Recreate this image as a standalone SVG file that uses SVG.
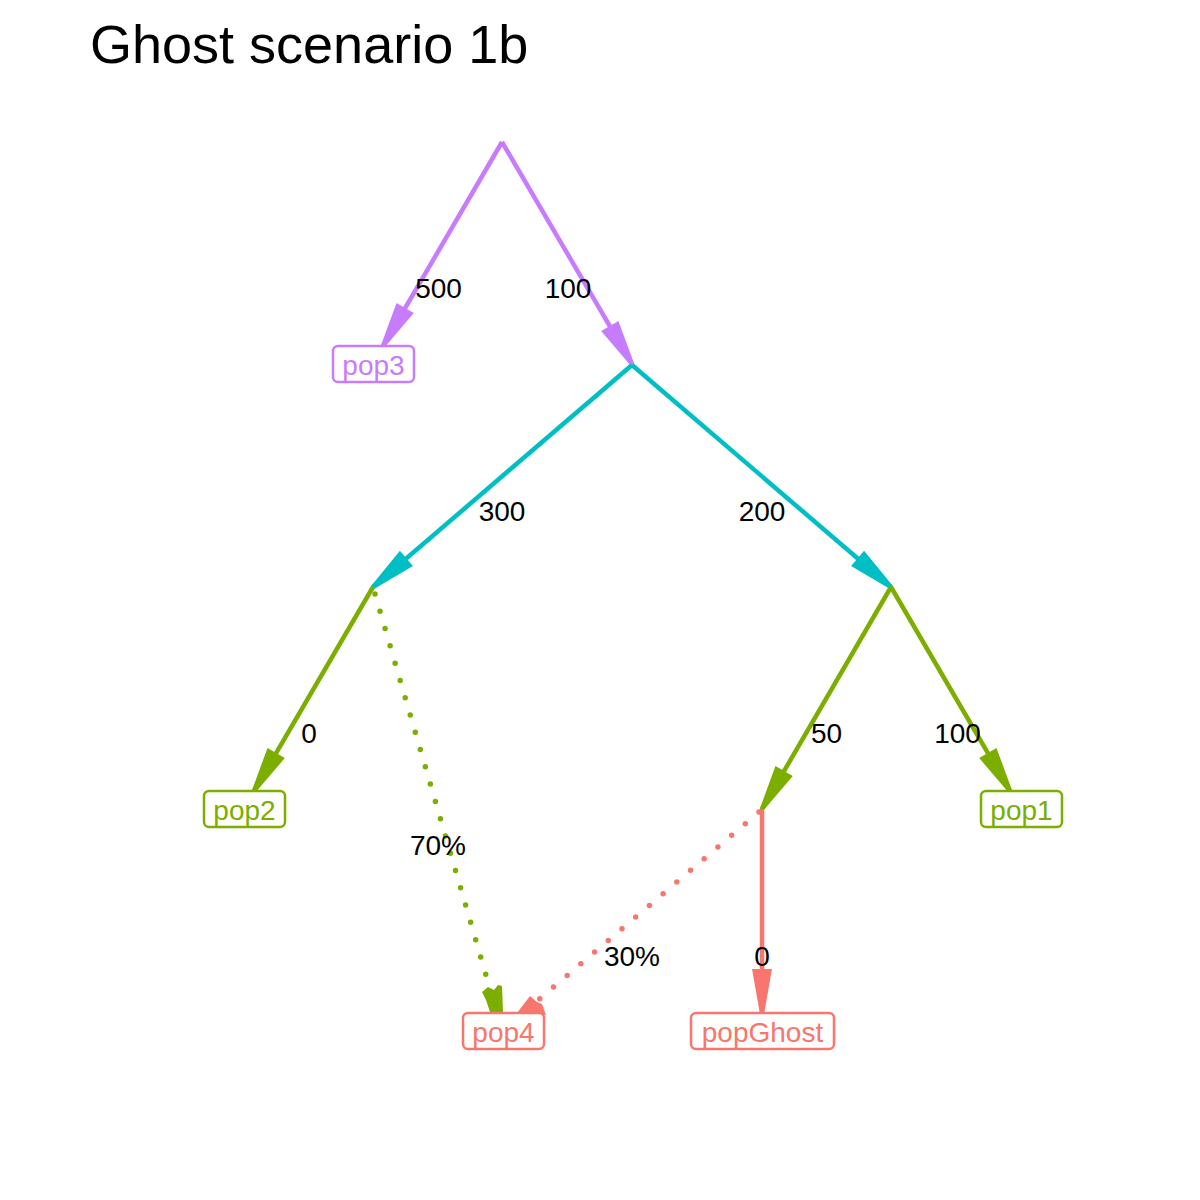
<svg xmlns="http://www.w3.org/2000/svg" width="1200" height="1200" viewBox="0 0 1200 1200">
<style>
.t{font-family:"Liberation Sans",Arial,sans-serif;font-size:28px;text-anchor:middle;fill:#000}
.title{font-family:"Liberation Sans",Arial,sans-serif;font-size:54px;fill:#000}
.box{fill:#fff;stroke-width:2.5}
.nl{font-family:"Liberation Sans",Arial,sans-serif;font-size:28px;text-anchor:middle}
.e{fill:none;stroke-width:4.5}
.d{fill:none;stroke-width:5.5;stroke-dasharray:0 18;stroke-linecap:round}
</style>
<defs>
<marker id="aP" viewBox="-46 -11 48 22" refX="0" refY="0" markerWidth="48" markerHeight="22" markerUnits="userSpaceOnUse" orient="auto"><path d="M1,-2 L-44,-10 L-44,10 L1,2 Z" fill="#C77CFF"/></marker>
<marker id="aC" viewBox="-46 -11 48 22" refX="0" refY="0" markerWidth="48" markerHeight="22" markerUnits="userSpaceOnUse" orient="auto"><path d="M1,-2 L-44,-10 L-44,10 L1,2 Z" fill="#00BFC4"/></marker>
<marker id="aG" viewBox="-46 -11 48 22" refX="0" refY="0" markerWidth="48" markerHeight="22" markerUnits="userSpaceOnUse" orient="auto"><path d="M1,-2 L-44,-10 L-44,10 L1,2 Z" fill="#7CAE00"/></marker>
<marker id="aR" viewBox="-46 -11 48 22" refX="0" refY="0" markerWidth="48" markerHeight="22" markerUnits="userSpaceOnUse" orient="auto"><path d="M1,-2 L-44,-10 L-44,10 L1,2 Z" fill="#F8766D"/></marker>
</defs>
<rect width="1200" height="1200" fill="#fff"/>
<text class="title" x="90" y="63">Ghost scenario 1b</text>
<g id="connectors">
<line class="e" stroke="#C77CFF" x1="502" y1="142" x2="383" y2="346" marker-end="url(#aP)"/>
<line class="e" stroke="#C77CFF" x1="502" y1="142" x2="632" y2="364" marker-end="url(#aP)"/>
<line class="e" stroke="#00BFC4" x1="632" y1="365" x2="373" y2="587" marker-end="url(#aC)"/>
<line class="e" stroke="#00BFC4" x1="632" y1="365" x2="891" y2="587" marker-end="url(#aC)"/>
<line class="e" stroke="#7CAE00" x1="373" y1="587" x2="254" y2="791" marker-end="url(#aG)"/>
<line class="e" stroke="#7CAE00" x1="891" y1="587" x2="762" y2="809" marker-end="url(#aG)"/>
<line class="e" stroke="#7CAE00" x1="891" y1="587" x2="1010" y2="791" marker-end="url(#aG)"/>
<line class="e" stroke="#F8766D" x1="762" y1="809" x2="762" y2="1013" marker-end="url(#aR)"/>
<line class="d" stroke="#7CAE00" x1="375" y1="594" x2="488" y2="982"/>
<polygon fill="#7CAE00" points="482,992 488,987 494,990 498,985 502,986 503,1012 490,1012 486,1000"/>
<line class="d" stroke="#F8766D" x1="759" y1="812" x2="536" y2="1002"/>
<polygon fill="#F8766D" points="517,1013 530,996 537,1002 542,1004 546,1015 535,1013"/>
</g>
<g id="edge-labels">
<text class="t" x="438.5" y="298">500</text>
<text class="t" x="568" y="298">100</text>
<text class="t" x="502" y="521">300</text>
<text class="t" x="762" y="521">200</text>
<text class="t" x="309" y="743">0</text>
<text class="t" x="826.5" y="743">50</text>
<text class="t" x="957.5" y="743">100</text>
<text class="t" x="438" y="855">70%</text>
<text class="t" x="632" y="966">30%</text>
<text class="t" x="762" y="966">0</text>
</g>
<g id="pop3"><rect class="box" stroke="#C77CFF" x="333" y="346" width="81" height="36" rx="5"/><text class="nl" fill="#C77CFF" x="373.5" y="375">pop3</text></g>
<g id="pop2"><rect class="box" stroke="#7CAE00" x="204" y="791" width="81" height="36" rx="5"/><text class="nl" fill="#7CAE00" x="244.5" y="820">pop2</text></g>
<g id="pop1"><rect class="box" stroke="#7CAE00" x="981" y="791" width="81" height="36" rx="5"/><text class="nl" fill="#7CAE00" x="1021.5" y="820">pop1</text></g>
<g id="pop4"><rect class="box" stroke="#F8766D" x="463" y="1013" width="81" height="36" rx="5"/><text class="nl" fill="#F8766D" x="503.5" y="1042">pop4</text></g>
<g id="popGhost"><rect class="box" stroke="#F8766D" x="691" y="1013" width="143" height="36" rx="5"/><text class="nl" fill="#F8766D" x="762.5" y="1042">popGhost</text></g>
</svg>
